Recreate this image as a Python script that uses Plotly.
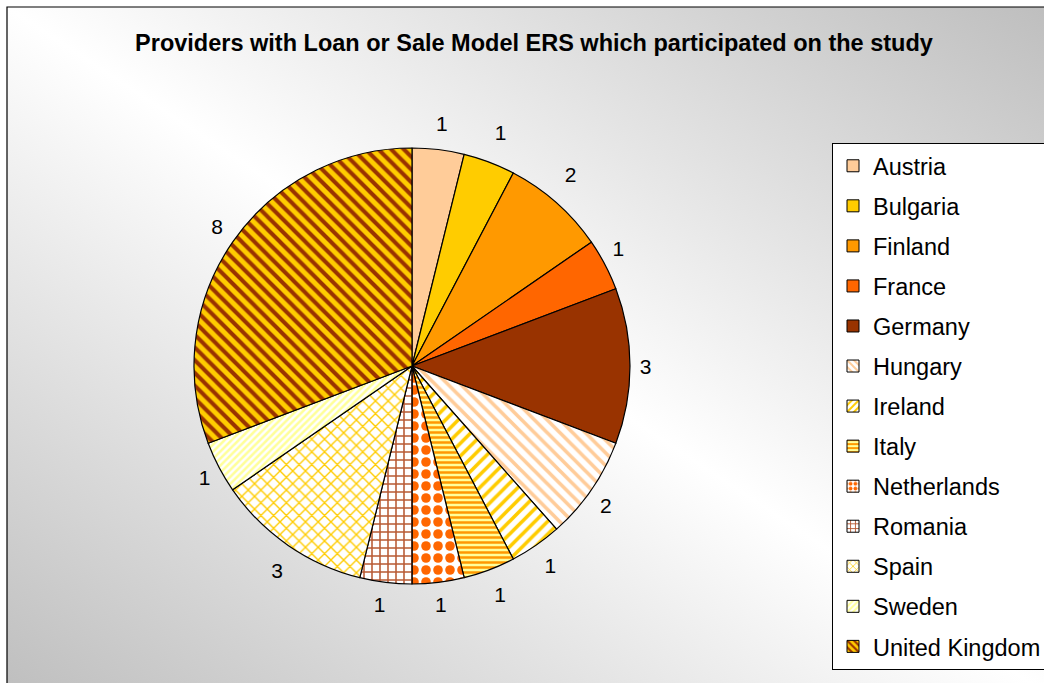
import base64
import plotly.graph_objects as go

# ---- data ----
countries = ["Austria", "Bulgaria", "Finland", "France", "Germany", "Hungary",
             "Ireland", "Italy", "Netherlands", "Romania", "Spain", "Sweden",
             "United Kingdom"]
providers = [1, 1, 2, 1, 3, 2, 1, 1, 1, 1, 3, 1, 8]

# ---- styles ----
bg_colors = ["#FFCC99", "#FFCC00", "#FF9900", "#FF6600", "#993300", "#FFFFFF",
             "#FFFFFF", "#FFFF99", "#FFFFFF", "#FFFFFF", "#FFFFFF", "#FFFFFF",
             "#FFCC00"]
fg_colors = ["#FFCC99", "#FFCC00", "#FF9900", "#FF6600", "#993300", "#FFCC99",
             "#FFCC00", "#FF9900", "#FF6600", "#B85A34", "#FFCC00", "#FFFF99",
             "#993300"]
shapes = ["", "", "", "", "", "\\", "/", "-", ".", "+", "x", "/", "\\"]
psizes = [8, 8, 8, 8, 8, 9, 9, 5, 12, 8, 9, 5, 9]
solid = [0.3, 0.3, 0.3, 0.3, 0.3, 0.4, 0.4, 0.5, 0.5, 0.35, 0.28, 0.5, 0.45]
# each value label sits on its own transparent ring: radius (px) and small angular nudge (deg)
label_radius = [232, 236, 236, 226, 222, 227, 230, 231, 228, 228, 232, 224, 228]
label_nudge = [-2.4, -1.7, -3.0, -2.8, 0, 2.0, 1.2, 1.4, 2.6, -1.7, -2.5, -1.4, 1.9]

W, H = 1044, 683
CX, CY, R0 = 412, 366, 218
FONT = "Liberation Sans, Arial, sans-serif"

fig = go.Figure()

# main pie
fig.add_trace(go.Pie(
    labels=countries, values=providers, sort=False, direction="clockwise",
    rotation=0, textinfo="none", showlegend=False, hoverinfo="label+value",
    marker=dict(colors=bg_colors, line=dict(color="black", width=1.2),
                pattern=dict(shape=shapes, fgcolor=fg_colors, bgcolor=bg_colors,
                             size=psizes, solidity=solid, fillmode="replace")),
    domain=dict(x=[(CX - R0) / W, (CX + R0) / W],
                y=[1 - (CY + R0) / H, 1 - (CY - R0) / H]),
))

# value labels
for i in range(len(countries)):
    R = label_radius[i]
    fig.add_trace(go.Pie(
        labels=countries, values=providers, sort=False, direction="clockwise",
        rotation=label_nudge[i], texttemplate="%{value}",
        textposition=["outside" if j == i else "none" for j in range(len(countries))],
        textfont=dict(family=FONT, size=21, color="black"),
        showlegend=False, hoverinfo="skip",
        marker=dict(colors=["rgba(0,0,0,0)"] * len(countries),
                    line=dict(width=0)),
        domain=dict(x=[(CX - R) / W, (CX + R) / W],
                    y=[1 - (CY + R) / H, 1 - (CY - R) / H]),
    ))

# legend entries
for i, c in enumerate(countries):
    fig.add_trace(go.Bar(
        x=[None], y=[None], name=c, legendgroup=c, showlegend=True,
        marker=dict(color=bg_colors[i], line=dict(color="black", width=1),
                    pattern=dict(shape=shapes[i], fgcolor=fg_colors[i],
                                 bgcolor=bg_colors[i], size=min(psizes[i], 6),
                                 solidity=solid[i], fillmode="replace")),
    ))

svg = ('<svg xmlns="http://www.w3.org/2000/svg" width="1060" height="700" '
       'viewBox="0 0 1060 700" preserveAspectRatio="none">'
       '<defs><linearGradient id="g" x1="1" y1="0" x2="0" y2="1">'
       '<stop offset="0" stop-color="#BDBDBD"/>'
       '<stop offset="0.5" stop-color="#FFFFFF"/>'
       '<stop offset="1" stop-color="#BDBDBD"/>'
       '</linearGradient></defs>'
       '<rect x="0" y="0" width="1060" height="700" fill="url(#g)"/></svg>')
src = "data:image/svg+xml;base64," + base64.b64encode(svg.encode()).decode()

fig.update_layout(
    width=W, height=H,
    margin=dict(l=0, r=0, t=0, b=0, autoexpand=False),
    paper_bgcolor="white", plot_bgcolor="rgba(0,0,0,0)",
    xaxis=dict(visible=False), yaxis=dict(visible=False),
    title=dict(text="<b>Providers with Loan or Sale Model ERS which participated on the study</b>",
               x=534 / W, y=1 - 43 / H, xanchor="center", yanchor="middle",
               font=dict(family=FONT, size=23.5, color="black")),
    legend=dict(x=832 / W, y=1 - 143 / H, xanchor="left", yanchor="top",
                bgcolor="white", bordercolor="black", borderwidth=1,
                font=dict(family=FONT, size=23.5, color="black"),
                tracegroupgap=6.5, traceorder="grouped"),
    images=[dict(source=src, xref="paper", yref="paper",
                 x=7 / W, y=1 - 7 / H, sizex=1060 / W, sizey=700 / H,
                 xanchor="left", yanchor="top", sizing="stretch", layer="below")],
    shapes=[dict(type="rect", xref="paper", yref="paper",
                 x0=7 / W, y0=-0.05, x1=1.05, y1=1 - 7 / H,
                 line=dict(color="black", width=1.2), fillcolor="rgba(0,0,0,0)")],
)

fig.write_html("out.html", config={"displayModeBar": False},
               post_script="document.body.style.margin='0';"
                           "document.body.style.overflow='hidden';")
